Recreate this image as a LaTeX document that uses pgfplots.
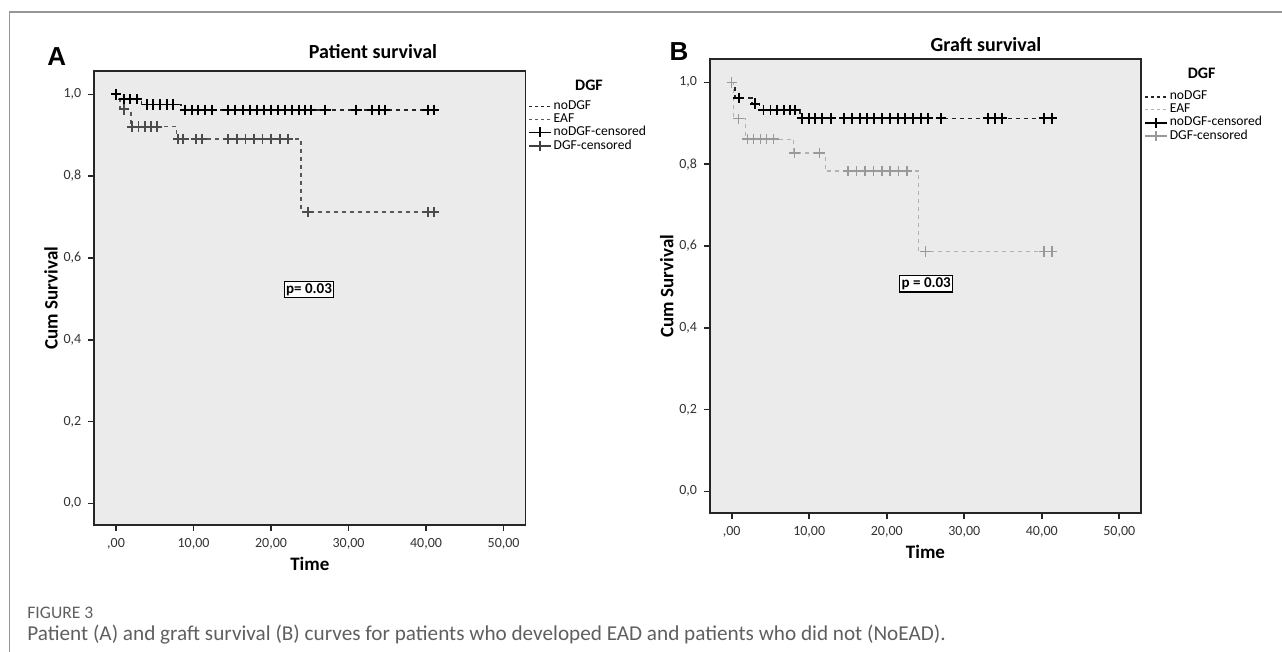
\documentclass[border=0pt]{standalone}
\usepackage{fontspec}
\setmainfont{Carlito}
\newfontfamily\arialf{Liberation Sans}
\usepackage{pgfplots}
\pgfplotsset{compat=1.18}

\definecolor{bg}{RGB}{235,235,235}
\definecolor{framegray}{RGB}{150,150,150}
\definecolor{captxt}{RGB}{95,95,95}

% common look of the SPSS Kaplan-Meier panels
\pgfplotsset{
  km/.style={
    scale only axis, width=215.5pt, height=227pt,
    xmin=-2.8, xmax=52.8, ymin=-0.053, ymax=1.057,
    xtick={0,10,20,30,40,50},
    xticklabels={{,00},{10,00},{20,00},{30,00},{40,00},{50,00}},
    ytick={0,0.2,0.4,0.6,0.8,1},
    yticklabels={{0,0},{0,2},{0,4},{0,6},{0,8},{1,0}},
    tick align=outside, tick pos=left, major tick length=3pt,
    tick style={black!85, line width=0.8pt},
    axis line style={black!85, line width=0.8pt},
    axis background/.style={fill=bg},
    ticklabel style={font=\fontsize{7}{8}\selectfont, text=black!80},
    label style={font=\bfseries\fontsize{9.5}{10}\selectfont},
    xlabel={Time}, ylabel={Cum Survival},
    xlabel style={yshift=3pt}, ylabel shift=-4pt,
    legend cell align=left,
    legend style={draw=none, fill=none, inner sep=0pt, row sep=-1.5pt,
      font=\fontsize{6.8}{7}\selectfont, nodes={inner sep=1pt}},
    legend image code/.code={\draw[mark repeat=2,mark phase=2,##1]
      plot coordinates {(0cm,0cm) (0.19cm,0cm) (0.38cm,0cm)};},
  },
  steps/.style={const plot, mark=none, line width=0.8pt, dash pattern=on 2pt off 2pt},
  cens/.style={only marks, mark=+, mark size=2.6pt, line width=0.95pt},
}
\tikzset{
  pbox/.style={draw=black, line width=0.6pt, fill=white, inner sep=1pt,
    font=\bfseries\fontsize{7.5}{8}\selectfont},
}

\begin{document}
\begin{tikzpicture}
\useasboundingbox (0pt,0pt) rectangle (641pt,-326pt);

% frame of the figure
\draw[framegray, line width=0.6pt] (4.65pt,-326pt) -- (4.65pt,-6pt) -- (641pt,-6pt);

% ---------------- A: patient survival ----------------
\begin{axis}[km, at={(47.15pt,-262.5pt)}, anchor=south west,
  legend style={at={(axis description cs:1.006,0.94)}, anchor=north west}]
\addlegendimage{black!85, line width=0.8pt, dash pattern=on 1.5pt off 1.5pt}
\addlegendentry{noDGF}
\addlegendimage{black!65, line width=0.8pt, dash pattern=on 1.5pt off 1.5pt}
\addlegendentry{EAF}
\addlegendimage{black, line width=0.9pt, mark=+, mark size=2.5pt}
\addlegendentry{noDGF-censored}
\addlegendimage{black!75, line width=0.9pt, mark=+, mark size=2.5pt}
\addlegendentry{DGF-censored}

\addplot[steps, black!85, forget plot] coordinates {
  (0,1.0) (0.4,0.988) (3.3,0.975) (8.4,0.962) (41.0,0.962)};
\addplot[steps, black!65, forget plot] coordinates {
  (0,1.0) (0.5,0.963) (1.9,0.921) (7.8,0.891) (23.9,0.712) (41.0,0.712)};
\addplot[cens, black!70, forget plot] coordinates {
  (1.0,0.963)
  (2.1,0.921) (2.9,0.921) (3.7,0.921) (4.5,0.921) (5.3,0.921)
  (8.0,0.891) (8.7,0.891) (10.3,0.891) (11.1,0.891)
  (14.5,0.891) (15.6,0.891) (16.7,0.891) (17.8,0.891) (18.9,0.891)
  (20.0,0.891) (21.1,0.891) (22.2,0.891)
  (24.8,0.712) (40.2,0.712) (41.0,0.712)};
\addplot[cens, black, forget plot] coordinates {
  (0,1.0)
  (1.0,0.988) (1.8,0.988) (2.7,0.988)
  (4.0,0.975) (4.8,0.975) (5.7,0.975) (6.6,0.975) (7.4,0.975)
  (8.9,0.962) (9.8,0.962) (10.6,0.962) (11.5,0.962) (12.4,0.962)
  (14.4,0.962) (15.4,0.962) (16.4,0.962) (17.3,0.962) (18.2,0.962)
  (19.1,0.962) (20.0,0.962) (20.9,0.962) (21.8,0.962) (22.7,0.962)
  (23.6,0.962) (24.4,0.962) (25.1,0.962) (27.0,0.962) (31.0,0.962)
  (33.0,0.962) (33.9,0.962) (34.7,0.962) (40.2,0.962) (41.0,0.962)};
\node[pbox] at (axis cs:24.9,0.523) {p= 0.03};
\end{axis}

% ---------------- B: graft survival ----------------
\begin{axis}[km, at={(355pt,-256.5pt)}, anchor=south west,
  legend style={at={(axis description cs:1.007,0.935)}, anchor=north west}]
\addlegendimage{black!85, line width=0.8pt, dash pattern=on 1.5pt off 1.5pt}
\addlegendentry{noDGF}
\addlegendimage{black!30, line width=0.6pt, dash pattern=on 1.5pt off 1.5pt}
\addlegendentry{EAF}
\addlegendimage{black, line width=0.9pt, mark=+, mark size=2.5pt}
\addlegendentry{noDGF-censored}
\addlegendimage{black!40, line width=0.7pt, mark=+, mark size=2.5pt}
\addlegendentry{DGF-censored}

\addplot[steps, black!30, line width=0.6pt, forget plot] coordinates {
  (0,1.0) (0.2,0.911) (1.8,0.861) (8.0,0.827) (12.1,0.783) (24.1,0.586) (41.3,0.586)};
\addplot[steps, black!85, forget plot] coordinates {
  (0,1.0) (0.4,0.962) (2.6,0.948) (3.6,0.932) (8.8,0.912) (41.3,0.912)};
\addplot[cens, black!40, line width=0.7pt, forget plot] coordinates {
  (0,1.0) (0.9,0.911)
  (2.0,0.861) (2.8,0.861) (3.7,0.861) (4.5,0.861) (5.4,0.861)
  (8.1,0.827) (11.3,0.827)
  (15.0,0.783) (16.1,0.783) (17.2,0.783) (18.3,0.783) (19.4,0.783)
  (20.4,0.783) (21.5,0.783) (22.6,0.783)
  (25.0,0.586) (40.3,0.586) (41.3,0.586)};
\addplot[cens, black, forget plot] coordinates {
  (0.9,0.962) (3.0,0.948)
  (4.1,0.932) (5.0,0.932) (5.8,0.932) (6.7,0.932) (7.5,0.932) (8.2,0.932)
  (9.1,0.912) (10.0,0.912) (10.8,0.912) (11.7,0.912) (12.8,0.912)
  (14.5,0.912) (15.5,0.912) (16.5,0.912) (17.4,0.912) (18.4,0.912)
  (19.4,0.912) (20.4,0.912) (21.4,0.912) (22.4,0.912) (23.4,0.912)
  (24.4,0.912) (25.3,0.912) (27.0,0.912)
  (33.1,0.912) (34.0,0.912) (34.9,0.912) (40.3,0.912) (41.3,0.912)};
\node[pbox] at (axis cs:25.1,0.507) {p = 0.03};
\end{axis}

% panel letters, titles, legend headings
\node[font=\arialf\bfseries\fontsize{13}{13}\selectfont] at (28.35pt,-28.35pt) {A};
\node[font=\arialf\bfseries\fontsize{13}{13}\selectfont] at (339.5pt,-25.85pt) {B};
\node[font=\bfseries\fontsize{10}{11}\selectfont] at (186.5pt,-25.85pt) {Patient survival};
\node[font=\bfseries\fontsize{10}{11}\selectfont] at (493pt,-22.5pt) {Graft survival};
\node[font=\bfseries\fontsize{8}{9}\selectfont] at (294.5pt,-42.5pt) {DGF};
\node[font=\bfseries\fontsize{8}{9}\selectfont] at (600.85pt,-36.65pt) {DGF};

% caption
\node[anchor=west, text=captxt, font=\fontsize{8.8}{9}\selectfont, inner sep=0pt]
  at (13.5pt,-306.5pt) {FIGURE 3};
\node[anchor=west, text=captxt, font=\fontsize{10.6}{12}\selectfont, inner sep=0pt]
  at (13.5pt,-317.5pt) {Patient (A) and graft survival (B) curves for patients who developed EAD and patients who did not (NoEAD).};
\end{tikzpicture}
\end{document}
